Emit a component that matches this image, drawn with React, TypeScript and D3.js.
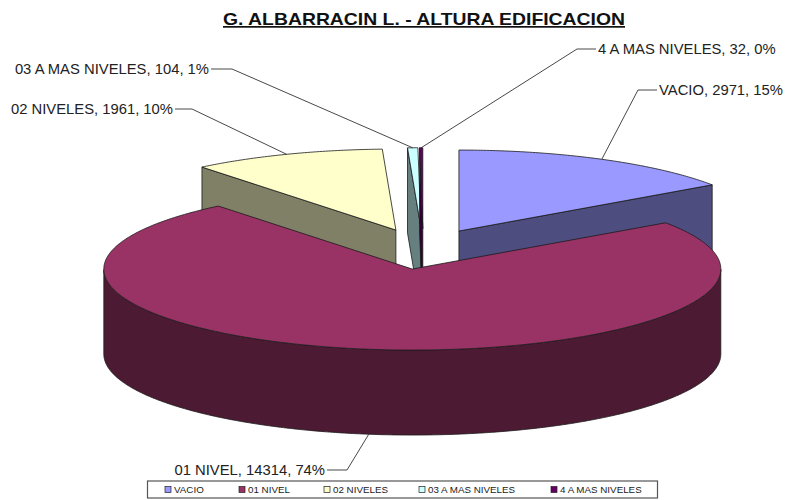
import React from "react";
import * as d3 from "d3";

const categories = ["VACIO", "01 NIVEL", "02 NIVELES", "03 A MAS NIVELES", "4 A MAS NIVELES"];
const values = [2971, 14314, 1961, 104, 32];
const percents = ["15%", "74%", "10%", "1%", "0%"];
const topColors = ["#9999ff", "#993366", "#ffffcc", "#ccffff", "#660066"];
const sideColors = ["#4d4d80", "#4d1a33", "#808066", "#668080", "#330033"];

// label anchor + elbow for each leader line, same order as categories
const labelX = [659, 325, 173, 209, 598];
const labelY = [90, 470, 109, 69, 49];
const labelAnchor = ["start", "end", "end", "end", "start"];
const elbowX = [638, 347, 192, 232, 577];

const legendSwatchX = [165, 239, 324, 419, 551];

const W = 787;
const H = 500;
const baseX = 423.2;
const baseY = 249;
const rx = 308.5;
const ry = 81;
const depth = 85;
const explode = 0.25;

const pie = d3.pie<number>().sort(null).startAngle(0).endAngle(2 * Math.PI);
const arcs = pie(values);

const lineGen = d3.line<[number, number]>();

type Pt = [number, number];

function sliceGeom(i: number) {
  const a0 = arcs[i].startAngle;
  const a1 = arcs[i].endAngle;
  const mid = (a0 + a1) / 2;
  const cx = baseX + rx * explode * Math.sin(mid);
  const cy = baseY - ry * explode * Math.cos(mid);
  const rim = (a: number): Pt => [cx + rx * Math.sin(a), cy - ry * Math.cos(a)];
  const down = (p: Pt): Pt => [p[0], p[1] + depth];
  const angles = d3.range(a0, a1, 0.01).concat([a1]);
  const apex: Pt = [cx, cy];

  const top = lineGen([apex, ...angles.map(rim)]) + "Z";
  const walls: string[] = [];
  if (Math.sin(a0) < -1e-6) {
    walls.push(lineGen([apex, rim(a0), down(rim(a0)), down(apex)]) + "Z");
  }
  if (Math.sin(a1) > 1e-6) {
    walls.push(lineGen([apex, rim(a1), down(rim(a1)), down(apex)]) + "Z");
  }
  // outer wall only shows on the front half
  const front = angles.filter((a) => Math.cos(a) <= 0);
  if (front.length > 1) {
    const upper = front.map(rim);
    walls.push(lineGen([...upper, ...upper.map(down).reverse()]) + "Z");
  }
  // leader line touches the rim at the mid angle, bottom edge when it's on the front
  const anchor = Math.cos(mid) < 0 ? down(rim(mid)) : rim(mid);
  return { top, walls, anchor };
}

const drawOrder = [0, 2, 3, 4, 1];
const textFont = "'Liberation Sans', Arial, sans-serif";

export default function App() {
  return (
    <svg
      width={W}
      height={H}
      style={{ position: "absolute", left: 0, top: 0, background: "#fff" }}
      fontFamily={textFont}
    >
      <text
        x={223}
        y={25}
        fontSize={17}
        fontWeight="bold"
        fill="#111"
        textDecoration="underline"
        textLength={402}
        lengthAdjust="spacingAndGlyphs"
      >
        G. ALBARRACIN L. - ALTURA EDIFICACION
      </text>

      {drawOrder.map((i) => {
        const g = sliceGeom(i);
        return (
          <g key={categories[i]} stroke="#1a1a1a" strokeWidth={0.8} strokeLinejoin="round">
            {g.walls.map((d, j) => (
              <path key={j} d={d} fill={sideColors[i]} />
            ))}
            <path d={g.top} fill={topColors[i]} />
          </g>
        );
      })}

      {categories.map((c, i) => {
        const g = sliceGeom(i);
        const gap = labelAnchor[i] === "start" ? -2 : 2;
        const pts: Pt[] = [
          [labelX[i] + gap, labelY[i]],
          [elbowX[i], labelY[i]],
          g.anchor,
        ];
        return (
          <g key={c}>
            <path d={lineGen(pts) ?? ""} fill="none" stroke="#333" strokeWidth={0.9} />
            <text
              x={labelX[i]}
              y={labelY[i] + 5.3}
              textAnchor={labelAnchor[i]}
              fontSize={14.8}
              fill="#222"
            >
              {`${c}, ${values[i]}, ${percents[i]}`}
            </text>
          </g>
        );
      })}

      <rect x={147.5} y={481} width={510} height={17} fill="#fff" stroke="#555" strokeWidth={1.2} />
      {categories.map((c, i) => (
        <g key={c}>
          <rect
            x={legendSwatchX[i]}
            y={486.5}
            width={6}
            height={6}
            fill={topColors[i]}
            stroke="#222"
            strokeWidth={0.7}
          />
          <text x={legendSwatchX[i] + 9} y={493} fontSize={9.8} fill="#222">
            {c}
          </text>
        </g>
      ))}
    </svg>
  );
}
